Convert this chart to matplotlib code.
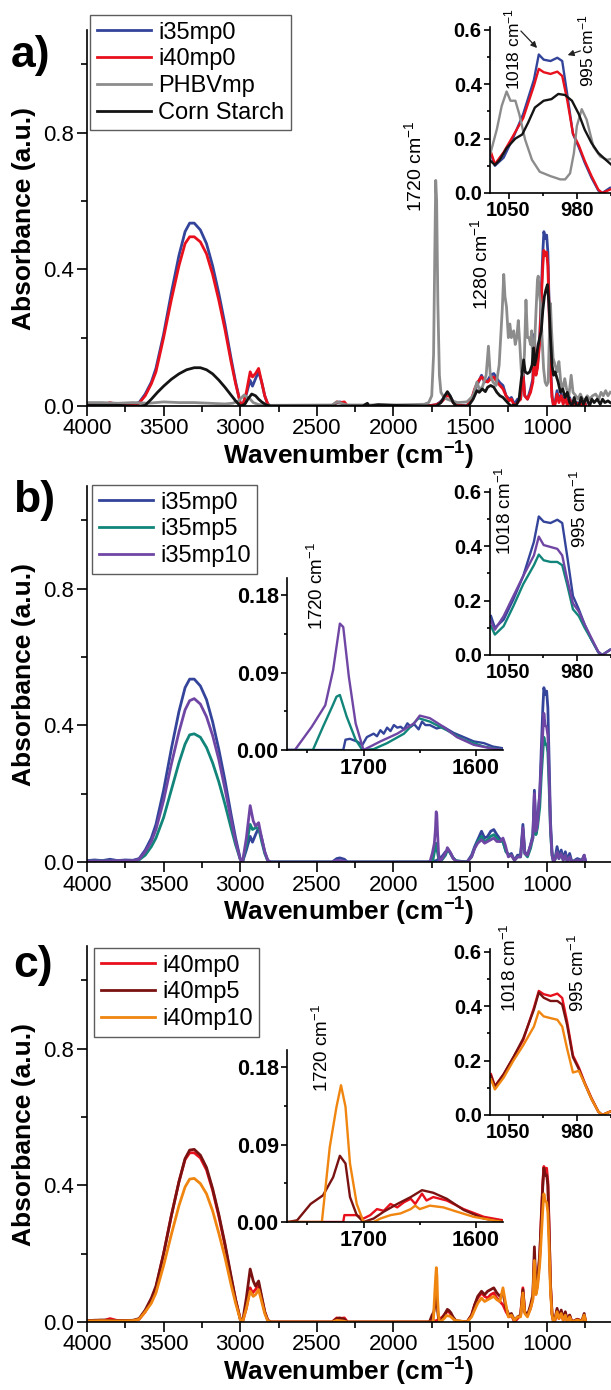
import matplotlib
matplotlib.use("Agg")
import matplotlib.pyplot as plt
from matplotlib.ticker import MultipleLocator, FormatStrFormatter

# ---------------- data (wavenumber cm-1, absorbance a.u.) ----------------
I35MP0_MAIN = [(4000,0.004),(3950,0.006),(3900,0.004),(3850,0.008),(3800,0.004),(3750,0.006),(3700,0.005),
    (3660,0.01),(3620,0.035),(3580,0.07),(3550,0.11),(3500,0.21),(3450,0.33),(3400,0.44),(3360,0.51),
    (3330,0.535),(3300,0.535),(3260,0.515),(3220,0.475),(3180,0.41),(3140,0.33),(3100,0.24),(3060,0.14),
    (3030,0.07),(3000,0.01),(2985,0.0),(2960,0.035),(2935,0.075),(2920,0.058),(2900,0.08),(2880,0.10),
    (2860,0.07),(2840,0.03),(2820,0.005),(2800,0.0),(2400,0.0),(2370,0.01),(2350,0.012),(2320,0.008),
    (2300,0.0),(1780,0.0),(1720,0.004),(1700,0.01),(1680,0.018),(1660,0.03),(1645,0.035),(1630,0.028),
    (1610,0.012),(1590,0.003),(1520,0.0),(1490,0.02),(1470,0.045),(1450,0.065),(1425,0.09),(1405,0.07),
    (1385,0.075),(1365,0.09),(1345,0.095),(1325,0.08),(1305,0.068),(1285,0.06),(1265,0.03),(1245,0.02),
    (1230,0.025),(1210,0.005),(1190,0.02),(1170,0.02),(1155,0.11),(1143,0.03),(1125,0.02),(1105,0.05),
    (1090,0.08),(1080,0.21),(1070,0.1),(1060,0.12),(1045,0.2),(1035,0.33),(1025,0.45),(1018,0.51),
    (1010,0.49),(1000,0.50),(992,0.45),(984,0.3),(975,0.12),(965,0.03),(955,0.0),(945,0.01),(932,0.045),
    (920,0.015),(905,0.035),(892,0.01),(878,0.03),(865,0.005),(850,0.025),(835,0.0),(800,0.01),
    (770,0.005),(755,0.02),(745,0.0)]

I40MP0_MAIN = [(4000,0.003),(3950,0.005),(3900,0.003),(3850,0.01),(3800,0.004),(3750,0.004),(3700,0.004),
    (3660,0.008),(3620,0.03),(3580,0.065),(3550,0.1),(3500,0.2),(3450,0.31),(3400,0.41),(3360,0.475),
    (3330,0.495),(3300,0.495),(3260,0.48),(3220,0.445),(3180,0.385),(3140,0.31),(3100,0.225),(3060,0.13),
    (3030,0.065),(3000,0.01),(2985,0.0),(2960,0.04),(2935,0.10),(2920,0.085),(2900,0.095),(2880,0.11),
    (2860,0.07),(2840,0.03),(2820,0.005),(2800,0.0),(2400,0.0),(2370,0.012),(2350,0.01),(2320,0.012),
    (2300,0.0),(1780,0.0),(1720,0.004),(1700,0.008),(1680,0.015),(1660,0.025),(1645,0.032),(1630,0.026),
    (1610,0.01),(1590,0.002),(1520,0.0),(1490,0.02),(1470,0.05),(1450,0.07),(1425,0.085),(1405,0.075),
    (1385,0.07),(1365,0.08),(1345,0.085),(1325,0.07),(1305,0.06),(1285,0.05),(1265,0.03),(1245,0.015),
    (1230,0.02),(1210,0.0),(1190,0.01),(1170,0.02),(1155,0.10),(1143,0.03),(1125,0.02),(1105,0.04),
    (1090,0.07),(1080,0.19),(1070,0.09),(1060,0.11),(1045,0.19),(1035,0.31),(1025,0.41),(1018,0.455),
    (1010,0.44),(1000,0.45),(992,0.41),(984,0.28),(975,0.11),(965,0.025),(955,0.0),(945,0.005),
    (932,0.035),(920,0.01),(905,0.03),(892,0.005),(878,0.025),(865,0.0),(850,0.02),(835,0.0),
    (800,0.008),(770,0.003),(755,0.018),(745,0.0)]

PHBVMP_MAIN = [(4000,0.01),(3900,0.01),(3800,0.008),(3700,0.01),(3600,0.008),(3500,0.012),(3400,0.01),
    (3300,0.01),(3200,0.008),(3100,0.006),(3050,0.008),(3010,0.015),(2990,0.025),(2975,0.032),(2955,0.026),
    (2935,0.02),(2915,0.01),(2880,0.004),(2800,0.002),(2400,0.003),(2370,0.012),(2350,0.01),(2330,0.006),
    (2300,0.003),(2000,0.003),(1800,0.005),(1770,0.01),(1750,0.03),(1738,0.15),(1730,0.45),(1724,0.66),
    (1718,0.6),(1710,0.3),(1700,0.09),(1690,0.04),(1670,0.025),(1650,0.02),(1620,0.015),(1580,0.01),
    (1520,0.012),(1480,0.03),(1455,0.07),(1440,0.05),(1420,0.055),(1395,0.09),(1380,0.175),(1368,0.09),
    (1350,0.07),(1330,0.06),(1310,0.12),(1290,0.28),(1280,0.385),(1272,0.32),(1262,0.29),(1250,0.2),
    (1240,0.24),(1230,0.2),(1215,0.22),(1205,0.18),(1195,0.2),(1185,0.25),(1175,0.18),(1165,0.1),
    (1155,0.09),(1145,0.15),(1135,0.31),(1125,0.2),(1115,0.2),(1105,0.18),(1098,0.22),(1092,0.14),
    (1085,0.12),(1072,0.25),(1060,0.37),(1055,0.38),(1048,0.33),(1040,0.3),(1030,0.2),(1020,0.11),
    (1010,0.07),(1000,0.06),(990,0.07),(980,0.25),(975,0.3),(968,0.22),(958,0.14),(945,0.12),(932,0.1),
    (920,0.13),(908,0.07),(895,0.05),(882,0.08),(870,0.05),(855,0.03),(840,0.09),(828,0.04),(810,0.03),
    (795,0.02),(780,0.035),(765,0.02),(750,0.015),(735,0.03),(720,0.02),(700,0.03),(680,0.035),
    (660,0.02),(645,0.04),(630,0.03),(615,0.045),(600,0.03),(585,0.04)]

CORN_STARCH_MAIN = [(4000,0.002),(3800,0.002),(3700,0.0),(3650,0.0),(3620,0.002),(3580,0.02),(3540,0.04),
    (3500,0.058),(3450,0.078),(3400,0.094),(3350,0.106),(3300,0.112),(3260,0.112),(3220,0.106),(3180,0.094),
    (3140,0.076),(3100,0.055),(3060,0.032),(3030,0.015),(3000,0.0),(2970,0.005),(2950,0.02),(2925,0.035),
    (2900,0.03),(2880,0.02),(2860,0.012),(2830,0.003),(2800,0.0),(2200,0.0),(2170,0.008),(2160,0.0),
    (2100,0.004),(2050,0.003),(2000,0.002),(1800,0.0),(1720,0.0),(1690,0.01),(1665,0.03),(1648,0.042),
    (1630,0.03),(1610,0.01),(1590,0.0),(1510,0.0),(1480,0.02),(1455,0.045),(1440,0.04),(1420,0.05),
    (1400,0.042),(1385,0.055),(1365,0.06),(1345,0.055),(1325,0.04),(1305,0.03),(1285,0.025),(1265,0.015),
    (1245,0.005),(1230,0.0),(1215,0.003),(1200,0.0),(1180,0.02),(1165,0.08),(1150,0.135),(1140,0.1),
    (1125,0.095),(1110,0.1),(1095,0.12),(1085,0.17),(1078,0.12),(1068,0.14),(1055,0.18),(1045,0.2),
    (1035,0.22),(1025,0.28),(1015,0.32),(1005,0.34),(995,0.355),(985,0.3),(975,0.2),(965,0.12),
    (955,0.09),(945,0.1),(935,0.085),(925,0.07),(910,0.04),(895,0.05),(880,0.025),(865,0.04),(850,0.01),
    (835,0.0),(820,0.025),(805,0.0),(790,0.0),(775,0.025),(760,0.005),(740,0.025),(720,0.0),(705,0.02),
    (690,0.01),(670,0.02),(650,0.005),(635,0.02),(620,0.01),(600,0.015),(585,0.01)]

I35MP5_MAIN = [(4000,0.003),(3900,0.003),(3800,0.003),(3700,0.003),(3660,0.006),(3620,0.02),(3580,0.045),
    (3550,0.07),(3500,0.13),(3450,0.21),(3400,0.29),(3360,0.345),(3330,0.372),(3300,0.375),(3260,0.365),
    (3220,0.335),(3180,0.29),(3140,0.235),(3100,0.17),(3060,0.1),(3030,0.05),(3000,0.008),(2985,0.0),
    (2960,0.05),(2935,0.11),(2920,0.095),(2900,0.1),(2880,0.1),(2860,0.06),(2840,0.025),(2820,0.003),
    (2800,0.0),(1780,0.0),(1745,0.0),(1730,0.035),(1722,0.055),(1715,0.035),(1705,0.01),(1695,0.0),
    (1680,0.008),(1660,0.02),(1648,0.035),(1635,0.03),(1615,0.014),(1595,0.004),(1520,0.0),(1490,0.015),
    (1470,0.04),(1450,0.06),(1425,0.075),(1405,0.06),(1385,0.065),(1365,0.075),(1345,0.08),(1325,0.07),
    (1305,0.06),(1285,0.06),(1265,0.03),(1245,0.02),(1230,0.02),(1210,0.005),(1190,0.015),(1170,0.015),
    (1155,0.09),(1143,0.025),(1125,0.015),(1105,0.04),(1090,0.07),(1080,0.17),(1070,0.08),(1060,0.1),
    (1045,0.16),(1035,0.25),(1025,0.32),(1018,0.365),(1010,0.345),(1000,0.345),(992,0.32),(984,0.22),
    (975,0.09),(965,0.02),(955,0.0),(945,0.008),(932,0.03),(920,0.01),(905,0.025),(892,0.005),(878,0.02),
    (865,0.0),(850,0.015),(835,0.0),(800,0.006),(770,0.002),(755,0.015),(745,0.0)]

I35MP10_MAIN = [(4000,0.003),(3900,0.003),(3800,0.004),(3700,0.004),(3660,0.008),(3620,0.03),(3580,0.06),
    (3550,0.095),(3500,0.18),(3450,0.285),(3400,0.38),(3360,0.445),(3330,0.472),(3300,0.478),(3260,0.462),
    (3220,0.425),(3180,0.37),(3140,0.3),(3100,0.215),(3060,0.125),(3030,0.06),(3000,0.008),(2985,0.0),
    (2960,0.07),(2935,0.165),(2915,0.12),(2900,0.105),(2880,0.115),(2860,0.07),(2840,0.03),(2820,0.004),
    (2800,0.0),(2400,0.0),(2370,0.005),(2330,0.003),(2300,0.0),(1780,0.0),(1762,0.0),(1745,0.028),
    (1733,0.055),(1726,0.095),(1721,0.147),(1717,0.14),(1712,0.085),(1706,0.03),(1700,0.0),(1690,0.005),
    (1670,0.019),(1655,0.031),(1648,0.042),(1638,0.035),(1625,0.025),(1610,0.01),(1590,0.002),(1520,0.0),
    (1490,0.015),(1470,0.04),(1450,0.055),(1425,0.065),(1405,0.055),(1385,0.06),(1365,0.065),(1345,0.07),
    (1325,0.06),(1305,0.06),(1285,0.07),(1270,0.05),(1250,0.015),(1230,0.02),(1210,0.005),(1190,0.015),
    (1170,0.015),(1155,0.1),(1143,0.025),(1125,0.02),(1105,0.05),(1090,0.07),(1080,0.2),(1070,0.09),
    (1060,0.11),(1045,0.2),(1035,0.29),(1025,0.38),(1018,0.435),(1010,0.40),(1000,0.395),(992,0.37),
    (984,0.25),(975,0.1),(965,0.02),(955,0.0),(945,0.008),(932,0.03),(920,0.01),(905,0.025),(892,0.005),
    (878,0.02),(865,0.0),(850,0.015),(835,0.0),(800,0.006),(770,0.002),(755,0.02),(745,0.0)]

I40MP5_MAIN = [(4000,0.004),(3900,0.006),(3800,0.004),(3700,0.005),(3660,0.01),(3620,0.035),(3580,0.07),
    (3550,0.105),(3500,0.2),(3450,0.31),(3400,0.41),(3360,0.478),(3330,0.503),(3300,0.505),(3260,0.488),
    (3220,0.452),(3180,0.39),(3140,0.315),(3100,0.23),(3060,0.135),(3030,0.065),(3000,0.008),(2985,0.0),
    (2960,0.07),(2935,0.155),(2915,0.12),(2900,0.105),(2880,0.12),(2860,0.075),(2840,0.03),(2820,0.005),
    (2800,0.0),(2400,0.0),(2370,0.01),(2350,0.012),(2320,0.008),(2300,0.0),(1780,0.0),(1765,0.0),
    (1748,0.02),(1736,0.03),(1727,0.052),(1721,0.077),(1716,0.068),(1711,0.03),(1705,0.008),(1700,0.0),
    (1690,0.004),(1680,0.012),(1668,0.021),(1658,0.029),(1648,0.037),(1638,0.034),(1625,0.027),
    (1610,0.014),(1592,0.004),(1520,0.0),(1490,0.02),(1470,0.05),(1450,0.075),(1425,0.09),(1405,0.08),
    (1385,0.09),(1365,0.095),(1345,0.1),(1325,0.085),(1305,0.075),(1285,0.085),(1265,0.04),(1245,0.02),
    (1230,0.025),(1210,0.005),(1190,0.015),(1170,0.02),(1155,0.095),(1143,0.03),(1125,0.02),(1105,0.05),
    (1090,0.08),(1080,0.22),(1070,0.1),(1060,0.12),(1045,0.2),(1035,0.3),(1025,0.4),(1018,0.45),
    (1010,0.43),(1000,0.43),(992,0.4),(984,0.27),(975,0.11),(965,0.025),(955,0.0),(945,0.01),(932,0.04),
    (920,0.015),(905,0.035),(892,0.01),(878,0.03),(865,0.005),(850,0.02),(835,0.0),(800,0.008),
    (770,0.003),(755,0.025),(745,0.0)]

I40MP10_MAIN = [(4000,0.003),(3900,0.004),(3800,0.003),(3700,0.004),(3660,0.008),(3620,0.03),(3580,0.055),
    (3550,0.085),(3500,0.165),(3450,0.255),(3400,0.34),(3360,0.395),(3330,0.418),(3300,0.42),(3260,0.405),
    (3220,0.375),(3180,0.325),(3140,0.26),(3100,0.19),(3060,0.11),(3030,0.055),(3000,0.008),(2985,0.0),
    (2960,0.04),(2935,0.09),(2915,0.075),(2900,0.08),(2880,0.095),(2860,0.06),(2840,0.025),(2820,0.003),
    (2800,0.0),(2400,0.0),(2370,0.005),(2330,0.003),(2300,0.0),(1780,0.0),(1740,0.0),(1730,0.087),
    (1724,0.134),(1720,0.159),(1716,0.134),(1712,0.068),(1706,0.021),(1700,0.0),(1690,0.0),(1680,0.006),
    (1665,0.012),(1655,0.019),(1645,0.018),(1630,0.017),(1615,0.011),(1600,0.005),(1520,0.0),(1490,0.015),
    (1470,0.035),(1450,0.055),(1425,0.07),(1405,0.06),(1385,0.065),(1365,0.07),(1345,0.075),(1325,0.065),
    (1305,0.06),(1285,0.1),(1270,0.06),(1250,0.015),(1230,0.02),(1210,0.005),(1190,0.015),(1170,0.015),
    (1155,0.085),(1143,0.025),(1125,0.015),(1105,0.04),(1090,0.065),(1080,0.18),(1070,0.08),(1060,0.1),
    (1045,0.17),(1035,0.25),(1025,0.33),(1018,0.375),(1010,0.355),(1000,0.35),(992,0.32),(984,0.22),
    (975,0.09),(965,0.02),(955,0.0),(945,0.008),(932,0.03),(920,0.01),(905,0.025),(892,0.005),(878,0.02),
    (865,0.0),(850,0.015),(835,0.0),(800,0.006),(770,0.002),(755,0.02),(745,0.0)]

# zoom on the carbonyl band (1720 cm-1)
I35MP0_C = [(1770,0),(1718,0),(1716,0.012),(1712,0.013),(1706,0.01),(1701,0.006),(1697,0.015),(1691,0.019),
    (1688,0.016),(1685,0.023),(1682,0.019),(1679,0.026),(1676,0.022),(1673,0.029),(1670,0.026),(1667,0.027),
    (1664,0.024),(1661,0.031),(1658,0.027),(1655,0.03),(1651,0.024),(1648,0.033),(1645,0.029),(1641,0.029),
    (1635,0.025),(1629,0.027),(1620,0.02),(1611,0.015),(1602,0.01),(1593,0.008),(1585,0.004),(1576,0.002)]
I35MP5_C = [(1770,0),(1745,0),(1736,0.027),(1728,0.05),(1724,0.062),(1721,0.064),(1715,0.039),(1707,0.012),
    (1701,0),(1691,0.001),(1679,0.008),(1664,0.019),(1651,0.037),(1641,0.033),(1626,0.023),(1611,0.012),
    (1593,0.004),(1576,0.0)]
I35MP10_C = [(1770,0),(1761,0),(1746,0.027),(1734,0.052),(1727,0.093),(1721,0.147),(1718,0.143),(1713,0.085),
    (1707,0.031),(1700,0.0),(1694,0.004),(1685,0.01),(1670,0.019),(1655,0.031),(1650,0.04),(1641,0.037),
    (1629,0.027),(1617,0.015),(1602,0.006),(1587,0.002),(1576,0.0)]
I40MP0_C = [(1770,0),(1718,0),(1717,0.008),(1706,0.008),(1700,0.004),(1694,0.008),(1688,0.015),(1682,0.013),
    (1676,0.021),(1670,0.017),(1664,0.023),(1658,0.027),(1654,0.021),(1648,0.033),(1644,0.025),(1638,0.029),
    (1626,0.025),(1611,0.015),(1593,0.006),(1576,0.002)]
I40MP5_C = [(1770,0),(1767,0),(1759,0.002),(1747,0.021),(1736,0.031),(1727,0.052),(1721,0.077),(1716,0.068),
    (1712,0.029),(1706,0.008),(1700,0),(1691,0.004),(1682,0.012),(1670,0.021),(1658,0.029),(1648,0.037),
    (1638,0.034),(1626,0.027),(1611,0.014),(1593,0.004),(1576,0.0)]
I40MP10_C = [(1770,0),(1737,0),(1730,0.087),(1724,0.134),(1720,0.159),(1716,0.134),(1712,0.068),(1706,0.021),
    (1700,0),(1691,0),(1685,0.004),(1676,0.008),(1667,0.01),(1658,0.015),(1654,0.019),(1650,0.015),
    (1641,0.019),(1629,0.017),(1617,0.012),(1602,0.006),(1576,0.0)]

# zoom on the 1018 / 995 cm-1 bands
ZOOM_WN = [1068, 1064, 1055, 1045, 1035, 1024, 1019, 1014, 1007, 1000, 995, 990, 984, 978, 972, 965, 958, 954, 946]
I35MP0_Z = [0.143, 0.10, 0.13, 0.205, 0.29, 0.416, 0.509, 0.49, 0.485, 0.497, 0.485, 0.366, 0.217, 0.168, 0.112, 0.056, 0.009, 0.0, 0.019]
I35MP5_Z = [0.106, 0.075, 0.106, 0.18, 0.26, 0.33, 0.369, 0.348, 0.342, 0.342, 0.33, 0.26, 0.168, 0.143, 0.1, 0.056, 0.012, 0.0, 0.019]
I35MP10_Z = [0.124, 0.093, 0.143, 0.217, 0.29, 0.366, 0.435, 0.404, 0.397, 0.39, 0.366, 0.28, 0.19, 0.16, 0.112, 0.062, 0.012, 0.0, 0.019]
I40MP0_Z = [0.15, 0.106, 0.15, 0.212, 0.275, 0.394, 0.456, 0.444, 0.4375, 0.446, 0.43, 0.344, 0.219, 0.175, 0.119, 0.0625, 0.0125, 0.0, 0.0125]
I40MP5_Z = [0.144, 0.104, 0.15, 0.2125, 0.281, 0.3875, 0.45, 0.431, 0.419, 0.419, 0.406, 0.331, 0.2125, 0.169, 0.116, 0.059, 0.0125, 0.0, 0.0125]
I40MP10_Z = [0.131, 0.094, 0.1375, 0.2, 0.256, 0.325, 0.381, 0.3625, 0.356, 0.35, 0.325, 0.244, 0.156, 0.1625, 0.116, 0.059, 0.0125, 0.0, 0.0125]
PHBVMP_Z = [(1069,0.14),(1062,0.234),(1057,0.32),(1052,0.373),(1048,0.339),(1043,0.339),(1039,0.29),(1033,0.196),
    (1026,0.122),(1018,0.078),(1007,0.062),(997,0.05),(992,0.05),(987,0.072),(983,0.147),(980,0.246),(975,0.308),
    (970,0.27),(963,0.17),(956,0.134),(949,0.122),(945,0.125)]
CORN_STARCH_Z = [(1069,0.12),(1064,0.103),(1059,0.122),(1052,0.165),(1043,0.2),(1036,0.215),(1030,0.258),
    (1023,0.314),(1014,0.339),(1006,0.345),(999,0.364),(992,0.36),(985,0.339),(978,0.29),(972,0.233),
    (965,0.184),(958,0.147),(951,0.124),(945,0.105)]

LABELS_A = ["i35mp0", "i40mp0", "PHBVmp", "Corn Starch"]
LABELS_B = ["i35mp0", "i35mp5", "i35mp10"]
LABELS_C = ["i40mp0", "i40mp5", "i40mp10"]

# ---------------- style ----------------
plt.rcParams['font.family'] = ['Liberation Sans', 'DejaVu Sans']
plt.rcParams['mathtext.fontset'] = 'custom'
plt.rcParams['mathtext.rm'] = 'Liberation Sans'
plt.rcParams['mathtext.it'] = 'Liberation Sans:italic'
plt.rcParams['mathtext.bf'] = 'Liberation Sans:bold'
plt.rcParams['mathtext.default'] = 'rm'

BLUE, RED, GREY, BLACK = '#33449a', '#e8101c', '#8c8c8c', '#141414'
TEAL, PURPLE, MAROON, ORANGE = '#12857a', '#7046a5', '#7a1212', '#f0850f'
LW = 2.0
W, H = 611, 1390

fig = plt.figure(figsize=(W / 100, H / 100), dpi=100)


def rect(left, top, right, bottom):
    return [left / W, 1 - bottom / H, (right - left) / W, (bottom - top) / H]


def unz(pairs):
    return [p[0] for p in pairs], [p[1] for p in pairs]


def style(ax, size, bold, maj_len, min_len):
    for s in ('top', 'right'):
        ax.spines[s].set_visible(False)
    for s in ('left', 'bottom'):
        ax.spines[s].set_linewidth(1.2)
    ax.tick_params(which='major', direction='out', length=maj_len, width=1.2, labelsize=size, pad=2)
    ax.tick_params(which='minor', direction='out', length=min_len, width=1.2)
    if bold:
        for t in ax.get_xticklabels() + ax.get_yticklabels():
            t.set_fontweight('bold')


def main_axes(top, bottom):
    ax = fig.add_axes(rect(87, top, 611, bottom))
    ax.set_xlim(4000, 580)
    ax.set_ylim(0, 1.1)
    ax.xaxis.set_major_locator(MultipleLocator(500))
    ax.xaxis.set_minor_locator(MultipleLocator(250))
    ax.yaxis.set_major_locator(MultipleLocator(0.4))
    ax.yaxis.set_minor_locator(MultipleLocator(0.2))
    ax.yaxis.set_major_formatter(FormatStrFormatter('%.1f'))
    style(ax, 16, False, 7, 4)
    ax.set_xlabel(r"Wavenumber (cm$^{\mathbf{-1}}$)", fontsize=19, fontweight='bold', labelpad=0)
    ax.set_ylabel("Absorbance (a.u.)", fontsize=19, fontweight='bold')
    ax.yaxis.set_label_coords(-0.098, 0.5)
    return ax


def zoom1000_axes(top, bottom):
    ax = fig.add_axes(rect(490, top, 611, bottom))
    ax.set_xlim(1069, 945)
    ax.set_ylim(0, 0.61)
    ax.xaxis.set_major_locator(MultipleLocator(70))
    ax.xaxis.set_minor_locator(MultipleLocator(35))
    ax.yaxis.set_major_locator(MultipleLocator(0.2))
    ax.yaxis.set_minor_locator(MultipleLocator(0.1))
    ax.yaxis.set_major_formatter(FormatStrFormatter('%.1f'))
    style(ax, 14.5, True, 4, 2.5)
    ax.patch.set_alpha(0)
    return ax


def zoom1720_axes(top, bottom):
    ax = fig.add_axes(rect(287, top, 503, bottom))
    ax.set_xlim(1768, 1576)
    ax.set_ylim(0, 0.2)
    ax.xaxis.set_major_locator(MultipleLocator(100))
    ax.xaxis.set_minor_locator(MultipleLocator(50))
    ax.yaxis.set_major_locator(MultipleLocator(0.09))
    ax.yaxis.set_minor_locator(MultipleLocator(0.045))
    ax.yaxis.set_major_formatter(FormatStrFormatter('%.2f'))
    style(ax, 15.5, True, 4, 2.5)
    ax.patch.set_alpha(0)
    return ax


def vlabel(x, ybottom, txt, size=13):
    fig.text(x / W, 1 - ybottom / H, txt, rotation=90, ha='center', va='bottom', fontsize=size)


def legend(ax, labels, colors, left, top):
    handles = [plt.Line2D([], [], color=c, lw=LW) for c in colors]
    lg = ax.legend(handles, labels, loc='upper left', bbox_to_anchor=(left / W, 1 - top / H),
                   bbox_transform=fig.transFigure, borderaxespad=0, fontsize=17, frameon=True,
                   fancybox=False, handlelength=2.3, handletextpad=0.3, labelspacing=0.2,
                   borderpad=0.28)
    lg.get_frame().set_edgecolor('#333333')
    lg.get_frame().set_linewidth(1.0)
    return lg


# ---------------- panel a ----------------
axa = main_axes(30, 406)
for data, c in ((I35MP0_MAIN, BLUE), (I40MP0_MAIN, RED), (PHBVMP_MAIN, GREY), (CORN_STARCH_MAIN, BLACK)):
    axa.plot(*unz(data), color=c, lw=LW)
legend(axa, LABELS_A, [BLUE, RED, GREY, BLACK], 90, 15)
vlabel(414, 212, "1720 cm$^{-1}$", 14)
vlabel(480, 310, "1280 cm$^{-1}$", 14)

za = zoom1000_axes(27, 193)
za.plot(ZOOM_WN, I35MP0_Z, color=BLUE, lw=1.7)
za.plot(ZOOM_WN, I40MP0_Z, color=RED, lw=1.7)
za.plot(*unz(PHBVMP_Z), color=GREY, lw=1.7)
za.plot(*unz(CORN_STARCH_Z), color=BLACK, lw=1.7)
vlabel(512, 90, "1018 cm$^{-1}$", 12.5)
vlabel(586, 87, "995 cm$^{-1}$", 12.5)
fig.add_artist(matplotlib.patches.FancyArrowPatch((519 / W, 1 - 29 / H), (539 / W, 1 - 50 / H),
               transform=fig.transFigure, arrowstyle='-|>', mutation_scale=9, lw=0.9, color='#222222'))
fig.add_artist(matplotlib.patches.FancyArrowPatch((583 / W, 1 - 50 / H), (565 / W, 1 - 56 / H),
               transform=fig.transFigure, arrowstyle='-|>', mutation_scale=9, lw=0.9, color='#222222'))
fig.text(11 / W, 1 - 56 / H, "a)", fontsize=32, fontweight='bold', ha='left', va='center')

# ---------------- panel b ----------------
axb = main_axes(486, 862)
for data, c in ((I35MP0_MAIN, BLUE), (I35MP5_MAIN, TEAL), (I35MP10_MAIN, PURPLE)):
    axb.plot(*unz(data), color=c, lw=LW)
legend(axb, LABELS_B, [BLUE, TEAL, PURPLE], 92, 485)

zb1 = zoom1720_axes(578, 750)
for data, c in ((I35MP0_C, BLUE), (I35MP5_C, TEAL), (I35MP10_C, PURPLE)):
    zb1.plot(*unz(data), color=c, lw=1.7)
vlabel(317, 630, "1720 cm$^{-1}$", 13.5)

zb2 = zoom1000_axes(489, 655)
for vals, c in ((I35MP0_Z, BLUE), (I35MP5_Z, TEAL), (I35MP10_Z, PURPLE)):
    zb2.plot(ZOOM_WN, vals, color=c, lw=1.7)
vlabel(505, 555, "1018 cm$^{-1}$", 13.5)
vlabel(580, 548, "995 cm$^{-1}$", 13.5)
fig.text(13 / W, 1 - 501 / H, "b)", fontsize=32, fontweight='bold', ha='left', va='center')

# ---------------- panel c ----------------
axc = main_axes(946, 1322)
for data, c in ((I40MP0_MAIN, RED), (I40MP5_MAIN, MAROON), (I40MP10_MAIN, ORANGE)):
    axc.plot(*unz(data), color=c, lw=LW)
legend(axc, LABELS_C, [RED, MAROON, ORANGE], 94, 948)

zc1 = zoom1720_axes(1050, 1222)
for data, c in ((I40MP0_C, RED), (I40MP5_C, MAROON), (I40MP10_C, ORANGE)):
    zc1.plot(*unz(data), color=c, lw=1.7)
vlabel(322, 1092, "1720 cm$^{-1}$", 13.5)

zc2 = zoom1000_axes(949, 1115)
for vals, c in ((I40MP0_Z, RED), (I40MP5_Z, MAROON), (I40MP10_Z, ORANGE)):
    zc2.plot(ZOOM_WN, vals, color=c, lw=1.7)
vlabel(510, 1012, "1018 cm$^{-1}$", 13.5)
vlabel(578, 1012, "995 cm$^{-1}$", 13.5)
fig.text(13 / W, 1 - 966 / H, "c)", fontsize=32, fontweight='bold', ha='left', va='center')

fig.savefig("out.png", dpi=100)
